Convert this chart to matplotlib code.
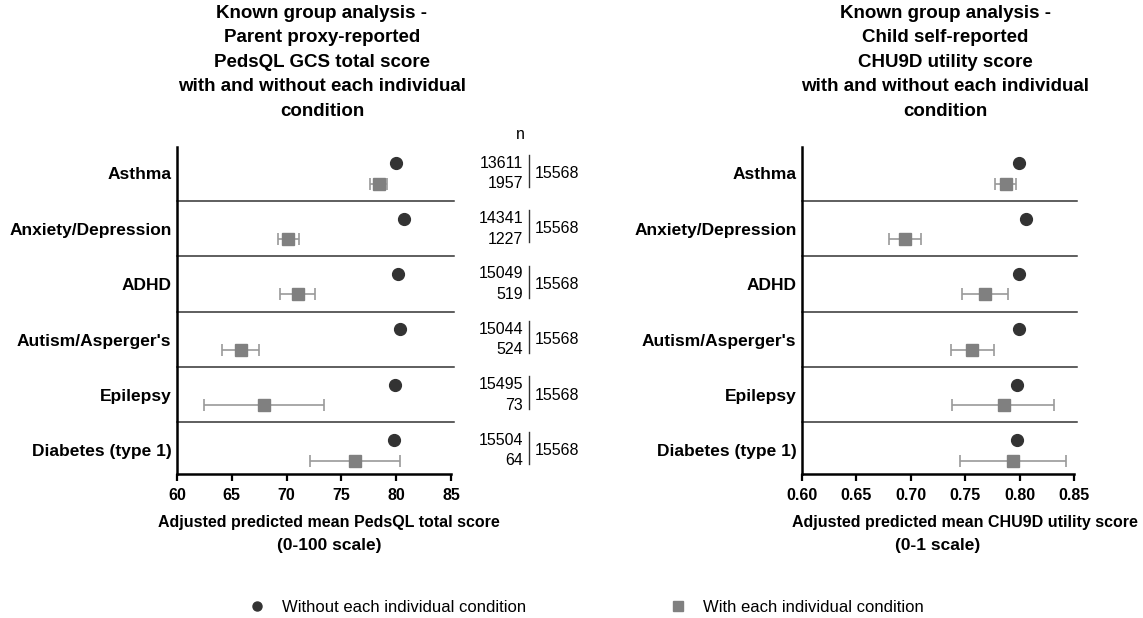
import numpy as np
import matplotlib.pyplot as plt
from matplotlib.lines import Line2D
import matplotlib.transforms as mtransforms

plt.rcParams['font.family'] = ['Liberation Sans', 'DejaVu Sans']

conditions = ["Asthma", "Anxiety/Depression", "ADHD", "Autism/Asperger's",
              "Epilepsy", "Diabetes (type 1)"]

# PedsQL GCS total score (parent proxy)
peds_without = [80.0, 80.7, 80.15, 80.3, 79.9, 79.8]
peds_with = [78.4, 70.1, 71.0, 65.8, 67.9, 76.2]
peds_lo = [77.6, 69.2, 69.4, 64.1, 62.5, 72.1]
peds_hi = [79.2, 71.1, 72.6, 67.5, 73.4, 80.3]

# CHU9D utility score (child self-report)
chu_without = [0.799, 0.806, 0.799, 0.799, 0.798, 0.798]
chu_with = [0.787, 0.695, 0.768, 0.7565, 0.786, 0.794]
chu_lo = [0.777, 0.680, 0.747, 0.737, 0.738, 0.745]
chu_hi = [0.797, 0.709, 0.789, 0.776, 0.832, 0.843]

n_without = [13611, 14341, 15049, 15044, 15495, 15504]
n_with = [1957, 1227, 519, 524, 73, 64]
n_total = [15568, 15568, 15568, 15568, 15568, 15568]

dark = '#333333'
grey = '#808080'
bar_grey = '#9a9a9a'
off = 0.37


def panel(ax, without, withc, lo, hi, xlim, xticks, ticklabels):
    rows = np.arange(len(conditions))
    withc = np.array(withc)
    err = [withc - np.array(lo), np.array(hi) - withc]
    ax.errorbar(withc, rows + off, xerr=err, fmt='s', color=grey, ms=8,
                ecolor=bar_grey, elinewidth=1.2, capsize=4, capthick=1.2, zorder=3)
    ax.plot(without, rows, 'o', color=dark, ms=8.5, zorder=4)
    for r in rows[:-1]:
        ax.axhline(r + 0.68, xmin=0, xmax=1.012, color=dark, lw=1.1, clip_on=False)
    ax.set_xlim(*xlim)
    ax.set_ylim(len(conditions) - 0.39, -0.29)
    ax.set_xticks(xticks)
    ax.set_xticklabels(ticklabels, fontsize=11.5, fontweight='bold')
    ax.set_yticks(rows + off / 2)
    ax.set_yticklabels(conditions, fontsize=12.5, fontweight='bold')
    ax.tick_params(axis='y', length=0, pad=4)
    ax.tick_params(axis='x', direction='out', length=5, width=1.6, pad=5)
    for s in ['top', 'right']:
        ax.spines[s].set_visible(False)
    for s in ['left', 'bottom']:
        ax.spines[s].set_linewidth(1.8)


fig = plt.figure(figsize=(11.43, 6.18), dpi=100)
axL = fig.add_axes([0.1549, 0.2330, 0.2397, 0.5291])
axR = fig.add_axes([0.7017, 0.2330, 0.2380, 0.5291])

panel(axL, peds_without, peds_with, peds_lo, peds_hi, (60, 85),
      [60, 65, 70, 75, 80, 85], ['60', '65', '70', '75', '80', '85'])
panel(axR, chu_without, chu_with, chu_lo, chu_hi, (0.60, 0.85),
      [0.60, 0.65, 0.70, 0.75, 0.80, 0.85],
      ['0.60', '0.65', '0.70', '0.75', '0.80', '0.85'])

# n column next to the left panel
trans = mtransforms.blended_transform_factory(axL.transAxes, axL.transData)
axL.text(1.252, -0.52, 'n', transform=trans, ha='center', va='center', fontsize=11.5)
for i in range(len(conditions)):
    axL.text(1.263, i, str(n_without[i]), transform=trans, ha='right', va='center', fontsize=11.5)
    axL.text(1.263, i + off, str(n_with[i]), transform=trans, ha='right', va='center', fontsize=11.5)
    axL.text(1.307, i + off / 2, str(n_total[i]), transform=trans, ha='left', va='center', fontsize=11.5)
    axL.add_line(Line2D([1.285, 1.285], [i - 0.15, i + 0.43], transform=trans,
                        color=dark, lw=1.0, clip_on=False))

# titles
fig.text(322 / 1143, 1 - 5 / 618,
         'Known group analysis -\nParent proxy-reported\nPedsQL GCS total score\n'
         'with and without each individual\ncondition',
         ha='center', va='top', fontsize=13.5, fontweight='bold', linespacing=1.57)
fig.text(945 / 1143, 1 - 5 / 618,
         'Known group analysis -\nChild self-reported\nCHU9D utility score\n'
         'with and without each individual\ncondition',
         ha='center', va='top', fontsize=13.5, fontweight='bold', linespacing=1.57)

# axis titles
axL.text(0.555, -0.147, 'Adjusted predicted mean PedsQL total score', transform=axL.transAxes,
         ha='center', va='center', fontsize=11.5, fontweight='bold')
axL.text(0.555, -0.22, '(0-100 scale)', transform=axL.transAxes,
         ha='center', va='center', fontsize=12.5, fontweight='bold')
axR.text(1.236, -0.147, 'Adjusted predicted mean CHU9D utility score', transform=axR.transAxes,
         ha='right', va='center', fontsize=11.5, fontweight='bold')
axR.text(0.5, -0.22, '(0-1 scale)', transform=axR.transAxes,
         ha='center', va='center', fontsize=12.5, fontweight='bold')

# legend
handles = [Line2D([], [], marker='o', ls='none', color=dark, ms=6.5),
           Line2D([], [], marker='s', ls='none', color=grey, ms=6.5)]
fig.legend(handles, ['Without each individual condition', 'With each individual condition'],
           loc='center', bbox_to_anchor=(0.513, 0.017), ncol=2, frameon=False,
           fontsize=12, handlelength=1.0, handletextpad=1.0, columnspacing=8.6)

fig.savefig('out.png', dpi=100)
